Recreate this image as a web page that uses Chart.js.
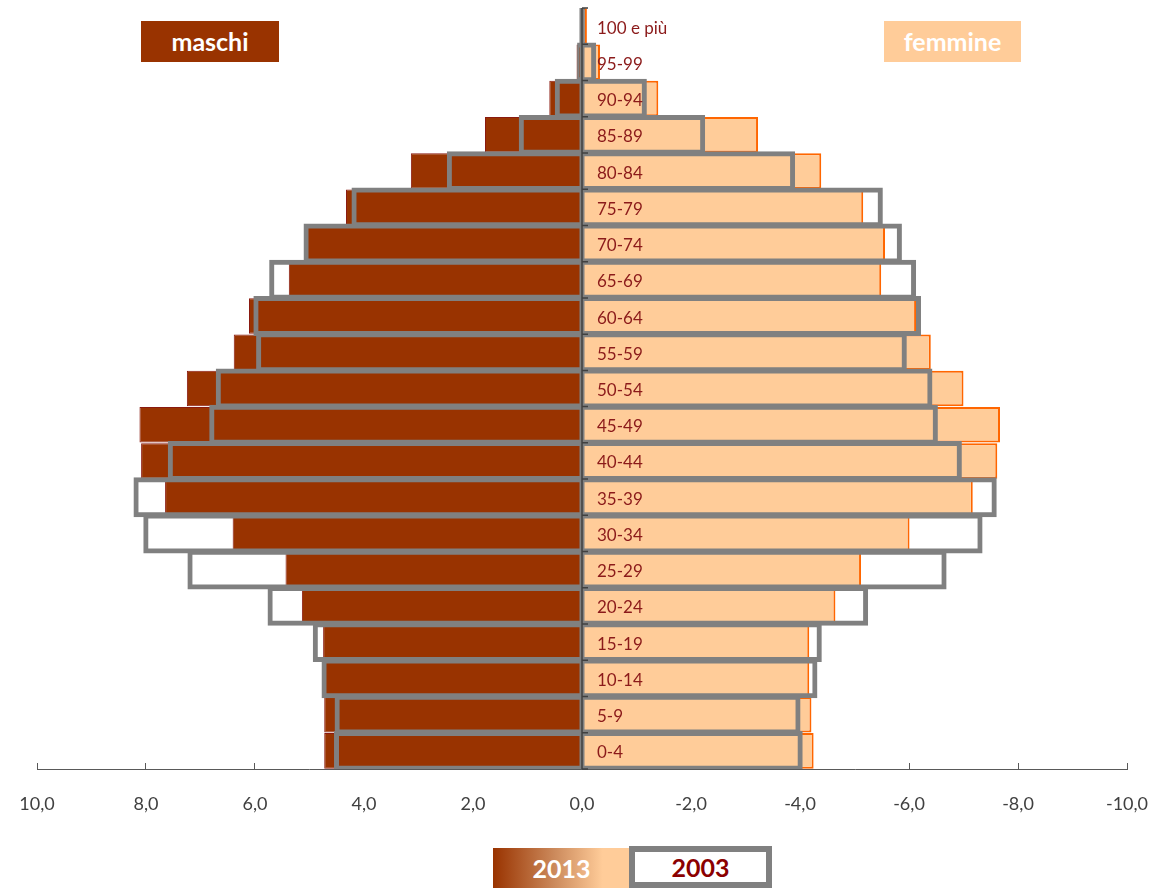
<!DOCTYPE html>
<html>
<head>
<meta charset="utf-8">
<script src="https://cdn.jsdelivr.net/npm/chart.js@4.4.1/dist/chart.umd.min.js"></script>
<style>
  body { margin: 0; background: #fff; font-family: Lato, 'Open Sans', sans-serif; }
  #wrap { position: relative; width: 1169px; height: 888px; overflow: hidden; }
  #chart-box { position: absolute; left: 0; top: 0; width: 1169px; height: 830px; }
  .tag { position: absolute; color: #fff; font-weight: bold; font-size: 25px; text-align: center; line-height: 41px; height: 41px; }
  .legend { position: absolute; font-weight: bold; font-size: 25px; text-align: center; box-sizing: border-box; }
</style>
</head>
<body>
<div id="wrap">
  <div id="chart-box"><canvas id="pyramid"></canvas></div>
  <div class="tag" style="left:141px; top:21px; width:138px; background:#993300;">maschi</div>
  <div class="tag" style="left:884px; top:21px; width:137px; background:#ffcc99;">femmine</div>
  <div class="legend" style="left:493px; top:848px; width:137px; height:40px; line-height:40px; color:#fff; background:linear-gradient(to right, #993300 0%, #cc8a5c 45%, #ffcc99 80%);">2013</div>
  <div class="legend" style="left:629px; top:846px; width:143px; height:42px; line-height:30px; color:#8b0000; background:#fff; border:6px solid #808080;">2003</div>
</div>
<script>
// age classes, bottom to top
const categories = ['0-4', '5-9', '10-14', '15-19', '20-24', '25-29', '30-34', '35-39', '40-44', '45-49',
  '50-54', '55-59', '60-64', '65-69', '70-74', '75-79', '80-84', '85-89', '90-94', '95-99', '100 e più'];

// percent of population, males positive / females negative
const male2013 = [4.73, 4.73, 4.73, 4.75, 5.14, 5.44, 6.41, 7.65, 8.09, 8.12, 7.25, 6.39, 6.11, 5.38, 5.05, 4.33, 3.14, 1.78, 0.60, 0.10, 0.02];
const female2013 = [-4.25, -4.21, -4.17, -4.17, -4.65, -5.12, -6.01, -7.17, -7.62, -7.67, -7.00, -6.40, -6.13, -5.49, -5.56, -5.16, -4.39, -3.23, -1.40, -0.33, -0.09];
const male2003 = [4.55, 4.54, 4.78, 4.94, 5.77, 7.24, 8.05, 8.23, 7.60, 6.84, 6.72, 5.98, 6.03, 5.74, 5.11, 4.23, 2.48, 1.16, 0.50, 0.09, 0.04];
const female2003 = [-4.05, -4.01, -4.32, -4.40, -5.25, -6.69, -7.35, -7.61, -6.97, -6.53, -6.43, -5.96, -6.22, -6.13, -5.87, -5.52, -3.91, -2.26, -1.19, -0.26, -0.05];

const xTicks = [10, 8, 6, 4, 2, 0, -2, -4, -6, -8, -10];

// zero axis with tick marks and the age labels next to it
const centerAxis = {
  id: 'centerAxis',
  afterDatasetsDraw(chart) {
    const {ctx, chartArea, scales: {x, y}} = chart;
    const zx = x.getPixelForValue(0);
    const step = Math.abs(y.getPixelForValue(1) - y.getPixelForValue(0));
    ctx.save();
    ctx.fillStyle = '#808080';
    ctx.fillRect(zx - 2.5, chartArea.top, 5, chartArea.bottom - chartArea.top);
    ctx.strokeStyle = '#404040';
    ctx.lineWidth = 1.5;
    ctx.beginPath();
    ctx.moveTo(zx, chartArea.top);
    ctx.lineTo(zx, chartArea.bottom);
    for (let i = 0; i <= categories.length; i++) {
      const yy = y.getPixelForValue(i) + step / 2;
      ctx.moveTo(zx, yy);
      ctx.lineTo(zx + 6, yy);
    }
    ctx.stroke();
    ctx.fillStyle = '#8b1a1a';
    ctx.font = '17px Lato';
    ctx.textBaseline = 'middle';
    categories.forEach((c, i) => {
      ctx.fillText(c, zx + 15, y.getPixelForValue(i) + 2);
    });
    ctx.restore();
  }
};

const ctx = document.getElementById('pyramid').getContext('2d');
new Chart(ctx, {
  type: 'bar',
  data: {
    labels: categories,
    datasets: [
      {
        label: '2003 maschi',
        data: male2003,
        backgroundColor: 'rgba(0,0,0,0)',
        borderColor: '#808080',
        borderWidth: 5,
        barPercentage: 1.1,
        order: 0
      },
      {
        label: '2003 femmine',
        data: female2003,
        backgroundColor: 'rgba(0,0,0,0)',
        borderColor: '#808080',
        borderWidth: 5,
        barPercentage: 1.1,
        order: 0
      },
      {
        label: '2013 maschi',
        data: male2013,
        backgroundColor: '#993300',
        borderColor: '#8a1a10',
        borderWidth: 1,
        barPercentage: 0.98,
        order: 1
      },
      {
        label: '2013 femmine',
        data: female2013,
        backgroundColor: '#ffcc99',
        borderColor: '#ff6600',
        borderWidth: 2,
        barPercentage: 0.98,
        order: 1
      }
    ]
  },
  options: {
    indexAxis: 'y',
    responsive: true,
    maintainAspectRatio: false,
    animation: false,
    grouped: false,
    categoryPercentage: 1,
    layout: { padding: { left: 37, right: 42, top: 8, bottom: 0 } },
    plugins: {
      legend: { display: false },
      tooltip: { enabled: false }
    },
    scales: {
      x: {
        type: 'linear',
        min: -10,
        max: 10,
        reverse: true,
        afterBuildTicks: (scale) => { scale.ticks = xTicks.map(v => ({ value: v })); },
        afterFit: (scale) => {
          scale.height = 61;
          scale.paddingLeft = 0;
          scale.paddingRight = 0;
        },
        border: { display: true, color: '#595959', width: 1 },
        grid: { drawOnChartArea: false, drawTicks: true, tickLength: -6, color: '#595959' },
        ticks: {
          padding: 30,
          color: '#404040',
          font: { family: 'Lato', size: 18 },
          maxRotation: 0,
          callback: (v) => v.toFixed(1).replace('.', ',')
        }
      },
      y: {
        type: 'category',
        reverse: true,
        display: false
      }
    }
  },
  plugins: [centerAxis]
});
</script>
</body>
</html>
